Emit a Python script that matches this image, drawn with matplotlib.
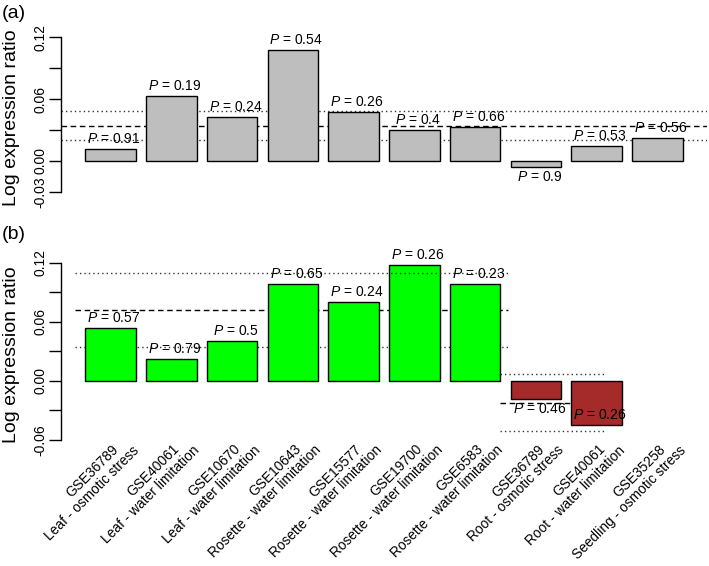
import numpy as np
import matplotlib
matplotlib.use("Agg")
import matplotlib.pyplot as plt
import matplotlib.transforms as mtransforms

plt.rcParams['font.family'] = ['Liberation Sans', 'DejaVu Sans']
plt.rcParams['mathtext.fontset'] = 'custom'
plt.rcParams['mathtext.it'] = 'Liberation Sans:italic'
plt.rcParams['mathtext.rm'] = 'Liberation Sans'

# ---------------- data ----------------
dataset_ids = ["GSE36789", "GSE40061", "GSE10670", "GSE10643", "GSE15577",
               "GSE19700", "GSE6583", "GSE36789", "GSE40061", "GSE35258"]
dataset_desc = ["Leaf - osmotic stress", "Leaf - water limitation",
                "Leaf - water limitation", "Rosette - water limitation",
                "Rosette - water limitation", "Rosette - water limitation",
                "Rosette - water limitation", "Root - osmotic stress",
                "Root - water limitation", "Seedling - osmotic stress"]

values_a = [0.0113, 0.063, 0.0426, 0.1077, 0.047, 0.030, 0.0326, -0.0061, 0.0148, 0.0223]
pvals_a = ["0.91", "0.19", "0.24", "0.54", "0.26", "0.4", "0.66", "0.9", "0.53", "0.56"]
ref_a = [0.0342, 0.020, 0.0484]          # mean, lower, upper

values_b = [0.0533, 0.0218, 0.0407, 0.098, 0.0797, 0.118, 0.0987, -0.019, -0.0448, np.nan]
pvals_b = ["0.57", "0.79", "0.5", "0.65", "0.24", "0.26", "0.23", "0.46", "0.26", ""]
groups_b = ["shoot"] * 7 + ["root"] * 2 + ["none"]
ref_b_shoot = [0.0716, 0.0346, 0.1093]
ref_b_root = [-0.0224, -0.0509, 0.0068]

yticks_a = [-0.03, 0.0, 0.03, 0.06, 0.09, 0.12]
yticklabels_a = ["-0.03", "0.00", "", "0.06", "", "0.12"]
yticks_b = [-0.06, -0.03, 0.0, 0.03, 0.06, 0.09, 0.12]
yticklabels_b = ["-0.06", "", "0.00", "", "0.06", "", "0.12"]

# ---------------- styling ----------------
W, H = 709, 566
fig = plt.figure(figsize=(W / 100, H / 100), dpi=100)

def fig_rect(x0, x1, ytop, ybot):
    return [x0 / W, 1 - ybot / H, (x1 - x0) / W, (ybot - ytop) / H]

ax_a = fig.add_axes(fig_rect(61.3, 706.7, 20, 200))
ax_b = fig.add_axes(fig_rect(61.3, 706.7, 245, 445))

n = len(dataset_ids)
centers = 0.7 + 1.2 * np.arange(n)
xlim = (-0.272, 12.472)

colors_b = {"shoot": "#00FF00", "root": "#A52A2A", "none": "none"}
dash_style = (0, (4, 2.6))
dot_style = (0, (1, 2.2))


def style_axis(ax, ylim, ticks, labels):
    ax.set_xlim(*xlim)
    ax.set_ylim(*ylim)
    for s in ["top", "right", "bottom"]:
        ax.spines[s].set_visible(False)
    ax.spines["left"].set_bounds(ticks[0], ticks[-1])
    ax.spines["left"].set_linewidth(1.0)
    ax.set_xticks([])
    ax.set_yticks(ticks)
    ax.set_yticklabels(labels, rotation=90, va="center", fontsize=10)
    ax.tick_params(axis="y", length=8.5, width=1.0, pad=1.5)
    ax.patch.set_visible(False)


def p_labels(ax, vals, pvals):
    for xc, v, p in zip(centers, vals, pvals):
        if np.isnan(v) or p == "":
            continue
        if v >= 0:
            ax.annotate(f"$P$ = {p}", xy=(xc, v), xytext=(2.5, 7.2),
                        textcoords="offset points", ha="center", va="center",
                        fontsize=10, annotation_clip=False)
        else:
            ax.annotate(f"$P$ = {p}", xy=(xc, max(v, -0.025)), xytext=(2.5, -7.2),
                        textcoords="offset points", ha="center", va="center",
                        fontsize=10, annotation_clip=False)


# ---- panel (a)
ax_a.bar(centers, values_a, width=1.0, color="#BEBEBE", edgecolor="black", linewidth=1.0, zorder=2)
ax_a.axhline(ref_a[0], color="black", linestyle=dash_style, linewidth=1.0, zorder=1)
ax_a.axhline(ref_a[1], color="#333333", linestyle=dot_style, linewidth=1.0, zorder=1)
ax_a.axhline(ref_a[2], color="#333333", linestyle=dot_style, linewidth=1.0, zorder=1)
style_axis(ax_a, (-0.0378, 0.1365), yticks_a, yticklabels_a)
p_labels(ax_a, values_a, pvals_a)

# ---- panel (b)
vb = np.array(values_b)
cols = [colors_b[g] for g in groups_b]
ax_b.bar(centers, np.nan_to_num(vb), width=1.0, color=cols,
         edgecolor=["black" if not np.isnan(v) else "none" for v in vb], linewidth=1.0, zorder=2)
shoot_idx = [i for i, g in enumerate(groups_b) if g == "shoot"]
root_idx = [i for i, g in enumerate(groups_b) if g == "root"]
xs0, xs1 = centers[shoot_idx[0]] - 0.7, centers[shoot_idx[-1]] + 0.65
xr0, xr1 = centers[root_idx[0]] - 0.7, centers[root_idx[-1]] + 0.18
for (x0, x1, ref) in [(xs0, xs1, ref_b_shoot), (xr0, xr1, ref_b_root)]:
    ax_b.plot([x0, x1], [ref[0]] * 2, color="black", linestyle=dash_style, linewidth=1.0, zorder=1)
    ax_b.plot([x0, x1], [ref[1]] * 2, color="#333333", linestyle=dot_style, linewidth=1.0, zorder=1)
    ax_b.plot([x0, x1], [ref[2]] * 2, color="#333333", linestyle=dot_style, linewidth=1.0, zorder=3)
style_axis(ax_b, (-0.0654, 0.138), yticks_b, yticklabels_b)
p_labels(ax_b, values_b, pvals_b)

# ---- x labels (two lines, rotated)
ytxt = 1 - 447 / H
trans = mtransforms.blended_transform_factory(ax_b.transData, fig.transFigure)
for xc, gid, desc in zip(centers, dataset_ids, dataset_desc):
    t1 = trans + mtransforms.ScaledTranslation(6 / 100, 0, fig.dpi_scale_trans)
    t2 = trans + mtransforms.ScaledTranslation(26 / 100, -1 / 100, fig.dpi_scale_trans)
    fig.text(xc, ytxt, gid, transform=t1, rotation=45, rotation_mode="anchor",
             ha="right", va="center", fontsize=9.9)
    fig.text(xc, ytxt, desc, transform=t2, rotation=45, rotation_mode="anchor",
             ha="right", va="center", fontsize=9.9)

# ---- axis labels & panel tags
fig.text(12 / W, 1 - 118 / H, "Log expression ratio", rotation=90, ha="center", va="center", fontsize=14)
fig.text(12 / W, 1 - 355 / H, "Log expression ratio", rotation=90, ha="center", va="center", fontsize=14)
fig.text(2 / W, 1 - 13 / H, "(a)", ha="left", va="center", fontsize=14)
fig.text(2 / W, 1 - 234 / H, "(b)", ha="left", va="center", fontsize=14)

fig.savefig("out.png", dpi=100)
